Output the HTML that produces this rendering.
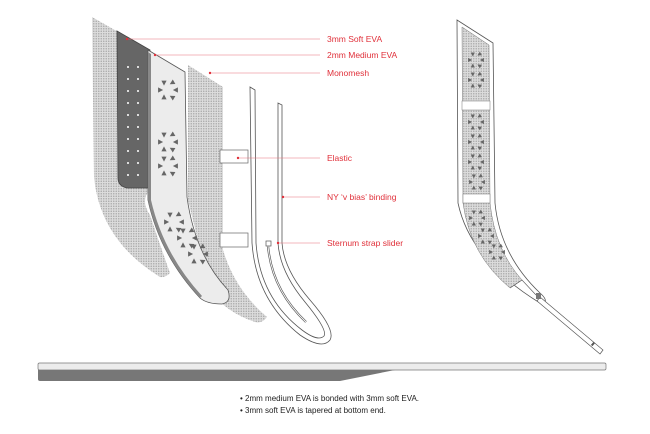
<!DOCTYPE html>
<html><head><meta charset="utf-8"><style>
html,body{margin:0;padding:0;background:#fff;}
svg{display:block}
text{font-family:"Liberation Sans",sans-serif;}
</style></head><body>
<svg width="650" height="434" viewBox="0 0 650 434" xmlns="http://www.w3.org/2000/svg">
<defs>
<pattern id="mesh" width="2.5" height="2.5" patternUnits="userSpaceOnUse">
<rect width="2.5" height="2.5" fill="#dcdcdc"/><circle cx="1.25" cy="1.25" r="0.75" fill="#a8a8a8"/>
</pattern>
<g id="tri"><path d="M-2.6,-2.4 L2.6,-2.4 L0,2.6 Z" fill="#666"/></g>
<g id="ring">
<use href="#tri" transform="translate(-4,-7)"/><use href="#tri" transform="translate(4,-7) rotate(60)"/>
<use href="#tri" transform="translate(-7.5,0) rotate(-90)"/><use href="#tri" transform="translate(7.5,0) rotate(90)"/>
<use href="#tri" transform="translate(-4,7) rotate(180)"/><use href="#tri" transform="translate(4,7) rotate(120)"/>
</g>
</defs>

<!-- back mesh -->
<path d="M92,17 L150,50 L150,190 Q140,200 150,215 Q160,245 170,273 Q165,278 160,277 Q100,240 94,177 Z" fill="url(#mesh)"/>
<!-- dark 3mm EVA -->
<path d="M117,31 L150,50 L150,188 L127,188 Q118,186 118,178 Z" fill="#666" stroke="#444" stroke-width="0.8"/>
<g fill="#fff">
<circle cx="128" cy="67" r="1"/><circle cx="138" cy="67" r="1"/><circle cx="128" cy="79" r="1"/><circle cx="138" cy="79" r="1"/>
<circle cx="128" cy="91" r="1"/><circle cx="138" cy="91" r="1"/><circle cx="128" cy="103" r="1"/><circle cx="138" cy="103" r="1"/>
<circle cx="128" cy="115" r="1"/><circle cx="138" cy="115" r="1"/><circle cx="128" cy="127" r="1"/><circle cx="138" cy="127" r="1"/>
<circle cx="128" cy="139" r="1"/><circle cx="138" cy="139" r="1"/><circle cx="128" cy="151" r="1"/><circle cx="138" cy="151" r="1"/>
<circle cx="128" cy="163" r="1"/><circle cx="138" cy="163" r="1"/><circle cx="128" cy="175" r="1"/><circle cx="138" cy="175" r="1"/>
</g>
<!-- monomesh -->
<path d="M188,65 L223,87 L223,250 Q235,290 267,317 Q262,324 255,322 Q225,312 210,290 L188,200 Z" fill="url(#mesh)"/>
<!-- light 2mm EVA -->
<path d="M148,50 L185,72 L187,197 Q195,255 228,290 Q232,302 222,304 Q207,304 200,298 Q160,255 148,200 Z" fill="#ececec" stroke="#555" stroke-width="0.8"/>
<path d="M148,52 L148,200 Q160,255 200,298 L202,296 Q163,253 151,200 L151,54 Z" fill="#888"/>
<use href="#ring" transform="translate(168,90)"/>
<use href="#ring" transform="translate(168,142)"/>
<use href="#ring" transform="translate(168,166)"/>
<use href="#ring" transform="translate(174,222)"/>
<use href="#ring" transform="translate(187,238)"/>
<use href="#ring" transform="translate(198,254)"/>
<!-- elastic -->
<rect x="220" y="150" width="28" height="13" fill="#fff" stroke="#666" stroke-width="0.7"/>
<rect x="220" y="233" width="28" height="14" fill="#fff" stroke="#666" stroke-width="0.7"/>
<!-- binding -->
<path d="M250,87 L252,243 Q256,300 300,335 Q322,350 330,340 Q336,330 310,300 Q284,270 282,243 L282,105 L278,103 L278,243 Q280,272 305,302 Q328,330 324,336 Q318,342 302,330 Q260,298 256,243 L255,90 Z" fill="#fff" stroke="#555" stroke-width="0.8"/>
<!-- slider -->
<rect x="266" y="241" width="5" height="5" fill="#fff" stroke="#555" stroke-width="0.7"/>
<path d="M268,246 Q272,290 306,322" fill="none" stroke="#555" stroke-width="2.2"/>
<path d="M268,246 Q272,290 306,322" fill="none" stroke="#fff" stroke-width="0.9"/>

<!-- labels -->
<g stroke="#e8707a" stroke-width="0.6">
<line x1="127" y1="39" x2="320" y2="39"/><line x1="155" y1="55" x2="320" y2="55"/>
<line x1="210" y1="73" x2="320" y2="73"/><line x1="238" y1="158" x2="320" y2="158"/>
<line x1="283" y1="197" x2="320" y2="197"/><line x1="278" y1="243" x2="320" y2="243"/>
</g>
<g fill="#e0303a">
<circle cx="127" cy="39" r="1.2"/><circle cx="155" cy="55" r="1.2"/><circle cx="210" cy="73" r="1.2"/>
<circle cx="238" cy="158" r="1.2"/><circle cx="283" cy="197" r="1.2"/><circle cx="278" cy="243" r="1.2"/>
</g>
<g fill="#e0303a" font-size="8.5">
<text x="327" y="42">3mm Soft EVA</text>
<text x="327" y="58">2mm Medium EVA</text>
<text x="327" y="76">Monomesh</text>
<text x="327" y="161">Elastic</text>
<text x="327" y="200">NY ‘v bias’ binding</text>
<text x="327" y="246">Sternum strap slider</text>
</g>

<!-- right assembled strap -->
<path d="M457,20 L493,43 L495,203 Q500,255 540,293 Q548,300 544,303 L540,303 Q470,260 458,203 Z" fill="#fff" stroke="#555" stroke-width="0.8"/>
<path d="M540,297 L603,350 L600,354 L537,301 Z" fill="#fff" stroke="#555" stroke-width="0.7"/>
<path d="M462,27 L489,45 L490,203 Q495,250 522,280 L510,288 Q470,255 463,203 Z" fill="url(#mesh)" stroke="#777" stroke-width="0.5"/>
<rect x="462" y="101" width="28" height="9" fill="#fff" stroke="#777" stroke-width="0.5"/>
<rect x="463" y="194" width="27" height="9" fill="#fff" stroke="#777" stroke-width="0.5"/>
<use href="#ring" transform="translate(476,60) scale(0.8)"/>
<use href="#ring" transform="translate(476,80) scale(0.8)"/>
<use href="#ring" transform="translate(476,122) scale(0.8)"/>
<use href="#ring" transform="translate(476,142) scale(0.8)"/>
<use href="#ring" transform="translate(476,162) scale(0.8)"/>
<use href="#ring" transform="translate(477,182) scale(0.8)"/>
<use href="#ring" transform="translate(477,218) scale(0.8)"/>
<use href="#ring" transform="translate(486,236) scale(0.8)"/>
<use href="#ring" transform="translate(497,252) scale(0.8)"/>
<path d="M510,288 L522,280 L536,295" fill="none" stroke="#555" stroke-width="0.6"/>
<rect x="536" y="293" width="5" height="6" fill="#777"/>
<rect x="592" y="342" width="2" height="4" fill="#555" transform="rotate(40 593 344)"/>

<!-- section bar -->
<rect x="38" y="363" width="568" height="7" rx="1.5" fill="#ececec" stroke="#777" stroke-width="0.7"/>
<path d="M38,370 L395,370 L340,381 L40,381 Q38,381 38,379 Z" fill="#777"/>
<g fill="#222" font-size="8">
<text x="240" y="401">• 2mm medium EVA is bonded with 3mm soft EVA.</text>
<text x="240" y="413">• 3mm soft EVA is tapered at bottom end.</text>
</g>
</svg>
</body></html>
